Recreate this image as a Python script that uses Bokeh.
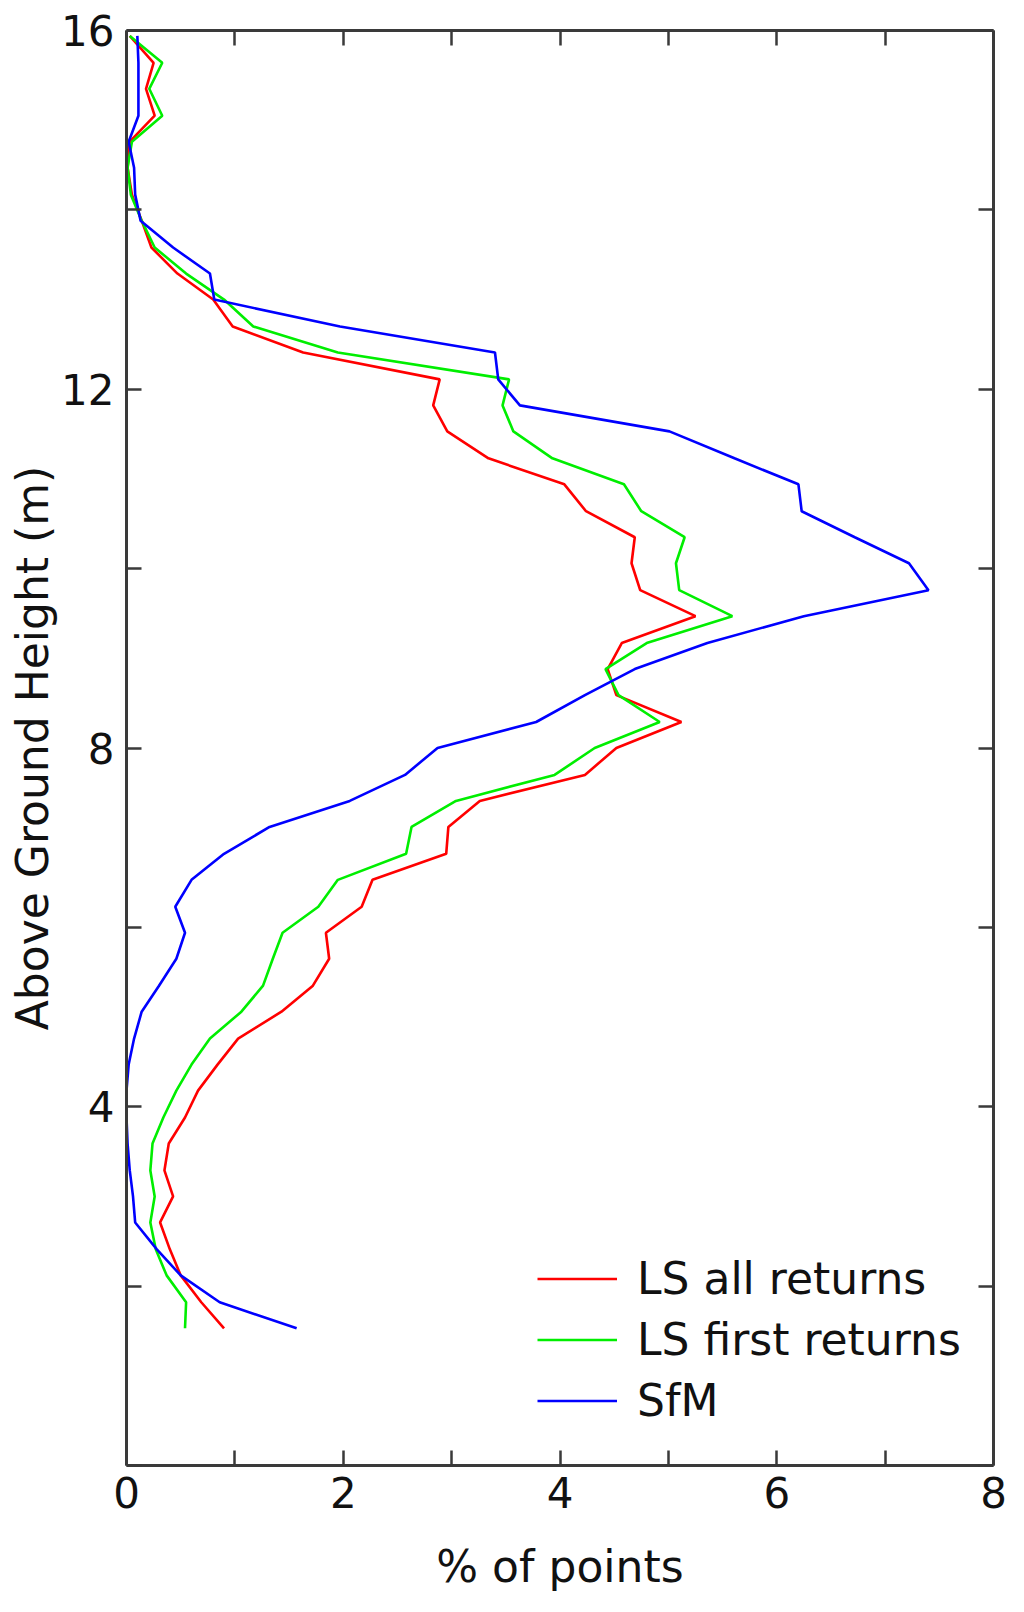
from bokeh.plotting import figure
from bokeh.models import (Range1d, LinearAxis, FixedTicker, Legend, LegendItem,
                          CustomLabelingPolicy)
from bokeh.embed import file_html
from bokeh.resources import INLINE

# Height above ground (m)
heights = [1.53, 1.82, 2.12, 2.41, 2.71, 3.00, 3.29, 3.59, 3.88, 4.18,
           4.47, 4.76, 5.06, 5.35, 5.65, 5.94, 6.23, 6.53, 6.82, 7.12,
           7.41, 7.70, 8.00, 8.29, 8.59, 8.88, 9.17, 9.47, 9.76, 10.06,
           10.35, 10.64, 10.94, 11.23, 11.53, 11.82, 12.11, 12.41, 12.70, 13.00,
           13.29, 13.58, 13.88, 14.17, 14.47, 14.76, 15.05, 15.35, 15.64, 15.94]

# % of points per height bin
ls_all = [0.90, 0.69, 0.50, 0.40, 0.31, 0.43, 0.35, 0.39, 0.54, 0.66,
          0.84, 1.03, 1.43, 1.72, 1.87, 1.84, 2.17, 2.27, 2.95, 2.97,
          3.26, 4.23, 4.52, 5.12, 4.52, 4.44, 4.57, 5.25, 4.74, 4.66,
          4.69, 4.24, 4.04, 3.34, 2.96, 2.83, 2.89, 1.63, 0.98, 0.80,
          0.47, 0.23, 0.14, 0.05, 0.01, 0.03, 0.26, 0.18, 0.25, 0.03]

ls_first = [0.54, 0.55, 0.37, 0.27, 0.22, 0.26, 0.22, 0.24, 0.34, 0.46,
            0.60, 0.77, 1.06, 1.26, 1.35, 1.44, 1.77, 1.95, 2.58, 2.63,
            3.04, 3.95, 4.32, 4.92, 4.54, 4.42, 4.80, 5.59, 5.10, 5.07,
            5.15, 4.75, 4.59, 3.93, 3.57, 3.47, 3.53, 1.95, 1.17, 0.90,
            0.55, 0.26, 0.14, 0.04, 0.01, 0.05, 0.33, 0.21, 0.33, 0.03]

sfm = [1.57, 0.86, 0.50, 0.28, 0.08, 0.06, 0.03, 0.01, 0.00, 0.00,
       0.02, 0.07, 0.14, 0.30, 0.46, 0.54, 0.45, 0.60, 0.90, 1.32,
       2.06, 2.57, 2.87, 3.78, 4.23, 4.69, 5.36, 6.25, 7.40, 7.22,
       6.72, 6.23, 6.20, 5.61, 5.01, 3.63, 3.43, 3.40, 1.97, 0.81,
       0.77, 0.43, 0.13, 0.08, 0.07, 0.02, 0.11, 0.11, 0.11, 0.10]

series_names = ["LS all returns", "LS first returns", "SfM"]
series_colors = ["#ff0000", "#00ee00", "#0000ff"]

x_ticks = [0, 1, 2, 3, 4, 5, 6, 7, 8]
y_ticks = [0, 2, 4, 6, 8, 10, 12, 14, 16]
# indices of ticks that carry a label
x_label_idx = [0, 2, 4, 6, 8]   # 0, 2, 4, 6, 8
y_label_idx = [2, 4, 6, 8]      # 4, 8, 12, 16

FONT = "DejaVu Sans"
AX_COLOR = "#3a3a3a"
TXT = "#111111"

p = figure(width=1008, height=1596, output_backend="svg", toolbar_location=None,
           x_range=Range1d(0, 8), y_range=Range1d(0, 16),
           min_border_left=126, min_border_right=15, min_border_top=30,
           min_border_bottom=131)
p.outline_line_color = None
p.xgrid.visible = False
p.ygrid.visible = False
p.background_fill_color = "white"
p.border_fill_color = "white"

renderers = []
for vals, col in zip([ls_all, ls_first, sfm], series_colors):
    renderers.append(p.line(vals, heights, line_color=col, line_width=2.6))


def keep_policy(keep):
    return CustomLabelingPolicy(code="""
        const keep = %s
        for (const i of indices) { if (!keep.includes(i)) indices.unset(i) }
        return indices
    """ % (list(keep),))


def style_axis(ax, ticks, keep):
    ax.ticker = FixedTicker(ticks=ticks)
    ax.axis_line_color = AX_COLOR
    ax.axis_line_width = 3
    ax.major_tick_line_color = AX_COLOR
    ax.major_tick_line_width = 2.5
    ax.major_tick_in = 15
    ax.major_tick_out = 0
    ax.minor_tick_line_color = None
    ax.major_label_policy = keep_policy(keep)
    if keep:
        ax.major_label_text_font = FONT
        ax.major_label_text_font_size = "42px"
        ax.major_label_text_color = TXT
        ax.axis_label_text_font = FONT
        ax.axis_label_text_font_size = "44px"
        ax.axis_label_text_font_style = "normal"
        ax.axis_label_text_color = TXT
    else:
        ax.major_label_text_font_size = "1px"
        ax.major_label_standoff = 0


xa = p.xaxis[0]
style_axis(xa, x_ticks, x_label_idx)
xa.axis_label = "% of points"
xa.major_label_standoff = 11
xa.axis_label_standoff = 30

ya = p.yaxis[0]
style_axis(ya, y_ticks, y_label_idx)
ya.axis_label = "Above Ground Height (m)"
ya.major_label_standoff = 12
ya.axis_label_standoff = 0

top_ax = LinearAxis()
style_axis(top_ax, x_ticks, [])
p.add_layout(top_ax, "above")

right_ax = LinearAxis()
style_axis(right_ax, y_ticks, [])
p.add_layout(right_ax, "right")

legend = Legend(items=[LegendItem(label=n, renderers=[r]) for n, r in zip(series_names, renderers)],
                location=(411, 34))
legend.background_fill_alpha = 0
legend.border_line_color = None
legend.padding = 0
legend.margin = 0
legend.spacing = 0
legend.glyph_width = 80
legend.glyph_height = 61
legend.label_height = 61
legend.label_standoff = 20
legend.label_text_font = FONT
legend.label_text_font_size = "44px"
legend.label_text_color = TXT
p.add_layout(legend, "center")

open("out.html", "w").write(file_html(p, INLINE))
